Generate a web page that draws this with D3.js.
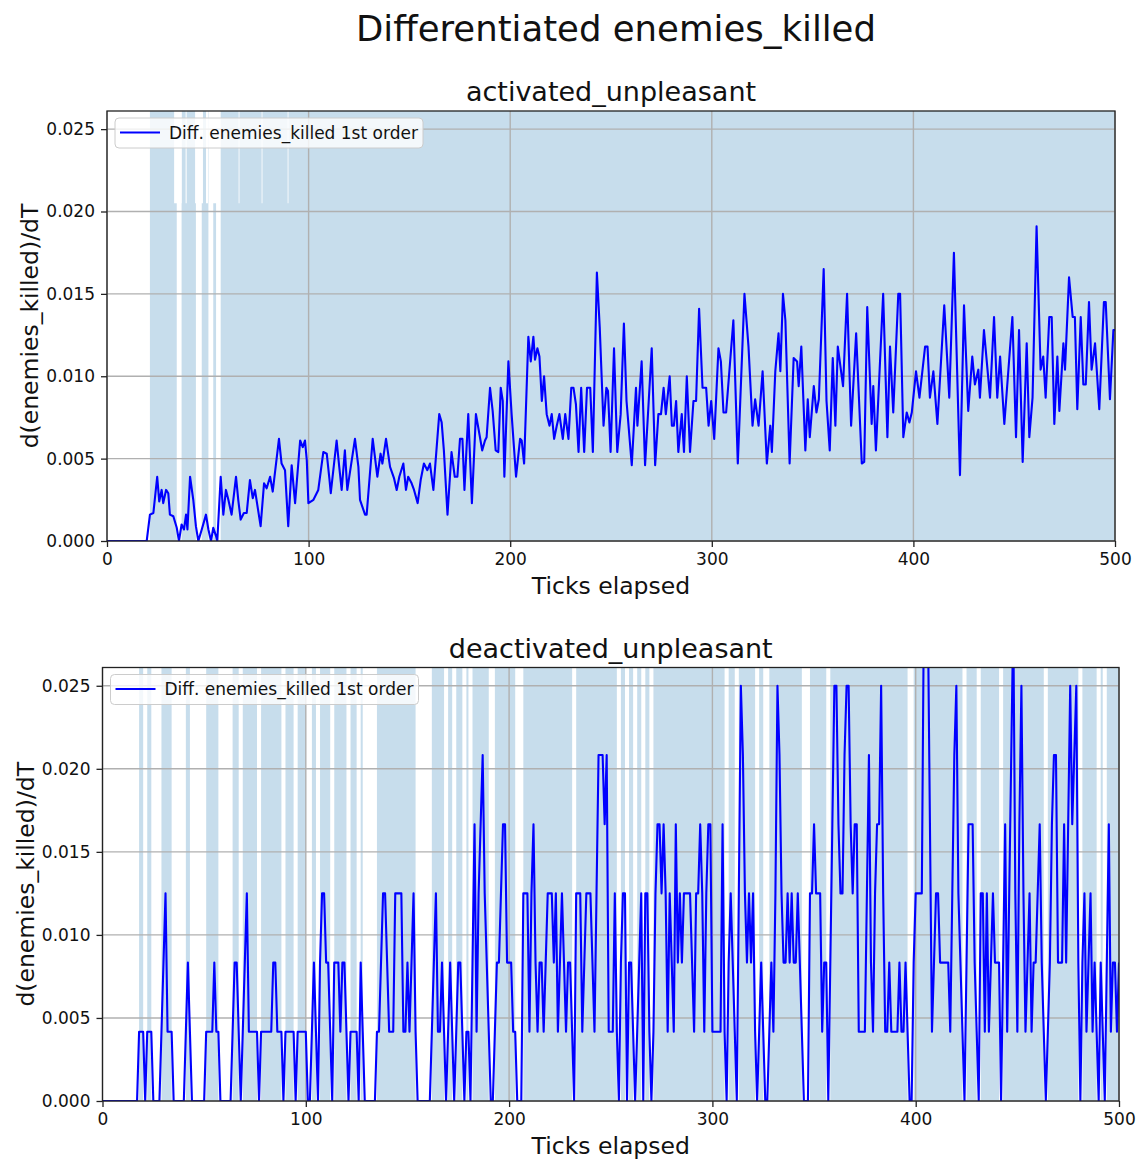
<!DOCTYPE html>
<html>
<head>
<meta charset="utf-8">
<script src="https://cdnjs.cloudflare.com/ajax/libs/d3/7.8.5/d3.min.js"></script>
<style>
body { margin: 0; background: #fff; }
text { font-family: "DejaVu Sans", sans-serif; fill: #111; }
</style>
</head>
<body>
<script>
var figure_title = "Differentiated enemies_killed";
var panel_titles = ["activated_unpleasant", "deactivated_unpleasant"];
var legend_label = "Diff. enemies_killed 1st order";
var x_label = "Ticks elapsed";
var y_label = "d(enemies_killed)/dT";
var x_ticks = [0, 100, 200, 300, 400, 500];
var y_ticks = [0, 0.005, 0.010, 0.015, 0.020, 0.025];
var x_max = 500;
var y_max = 0.0261;

// activated_unpleasant: curve vertices (tick, value x 1000)
var act_ticks = [0, 19.7, 21.3, 23, 24.9, 25.9, 27.1, 27.9, 29.3, 30.4, 31.2, 32.9, 34.6, 35.7, 37.0, 38.2, 39.2, 39.9,
	41.2, 42.8, 44.1, 45.3, 47.0, 49.1, 50.3, 51.6, 52.7, 54.1, 54.7, 56.4, 57.7, 59.0, 60.2, 61.8, 64.0, 65.1, 66.3,
	67.9, 69.3, 70.9, 72.3, 73.4, 76.2, 77.9, 79.2, 80.9, 82.2, 85.3, 86.6, 88.3, 89.9, 91.6, 93.3, 95.8, 97.1, 98.2,
	99.1, 99.9, 102.4, 104.8, 107.3, 109.0, 110.3, 111.0, 113.9, 115.2, 116.4, 118.0, 119.2, 123, 124.7, 125.5, 128,
	128.8, 131.8, 134.1, 135.7, 136.6, 138.4, 140.4, 142.4, 143.7, 145.0, 147, 148.3, 149.4, 151.1, 152.3, 154.1,
	155.6, 157.2, 158.9, 160.2, 161.9, 164.8, 166, 167.1, 168.9, 170.9, 172.5, 173.8, 175.1, 176.3, 177.3, 179.2,
	181.0, 183.0, 185.0, 186.1, 187.5, 188.3, 190, 191.3, 192.8, 194.1, 195.3, 196.3, 197.1, 199.1, 200.7, 202.9,
	204.9, 205.7, 206.9, 209, 210.2, 211.5, 212.3, 213.5, 214.5, 215.7, 216.8, 218.1, 219.5, 220.6, 221.8, 223.1,
	224.4, 226.1, 227.3, 228.9, 230.3, 231.4, 232.6, 233.9, 235.2, 236.7, 238.1, 239.7, 241.0, 243.0, 244.4, 246.3,
	247.7, 248.5, 249.8, 251.5, 253.1, 254.8, 256.4, 257.7, 260.3, 262.4, 263.1, 265.2, 266.9, 270.2, 271.9, 273.5,
	274.8, 276.1, 277.2, 279.1, 280.2, 281.2, 282.3, 283.4, 285.1, 286.2, 287.6, 289.2, 290.9, 292.2, 293.7, 295.4,
	297.2, 298.4, 299.7, 301.2, 303.3, 304.5, 305.8, 307.1, 309.1, 310.7, 312.9, 316.2, 318.2, 320.2, 321.5, 323.2,
	325.2, 327.3, 329.0, 329.8, 331.5, 333.1, 334.0, 335.3, 336.5, 338.6, 340.6, 342.3, 343.1, 344.4, 346.4, 347.6,
	348.6, 350.6, 351.9, 353.1, 355.5, 356.9, 358.5, 360.0, 361.3, 362.5, 365.1, 367.1, 369.1, 371.6, 374.4, 375.6,
	377.1, 379.3, 380.1, 381.4, 385.0, 387.1, 388.4, 390.0, 392.5, 393.4, 395.0, 396.7, 398.0, 399.2, 401.3, 403.0,
	405.8, 407.0, 408.2, 409.9, 411.9, 415.3, 417.8, 420.1, 423.1, 425.1, 427.2, 429.2, 430.5, 432.2, 433.0, 435.0,
	438.0, 440.0, 441.6, 443.0, 445.1, 449.1, 450.9, 452.4, 454.2, 456.2, 457.5, 459.1, 461.1, 463.1, 464.4, 465.6,
	467.4, 468.6, 469.9, 471.4, 472.4, 474.4, 475.2, 477.2, 479.0, 480.1, 481.3, 483.0, 484.3, 485.5, 487.1, 488.4,
	490.1, 492.2, 494.5, 495.4, 497.5, 499.2, 500];
var act_values = [0, 0, 1.6, 1.7, 3.9, 2.4, 3.1, 2.3, 3.1, 2.9, 1.6, 1.5, 0.8, 0, 1.0, 0.7, 1.6, 0.7,
	3.9, 2.5, 0.9, 0, 0.7, 1.6, 0.7, 0, 0.8, 0.3, 0, 3.9, 1.6, 3.1, 2.5, 1.6, 3.9, 2.5, 1.3,
	1.7, 1.7, 3.7, 2.6, 3.1, 0.9, 3.5, 3.2, 3.9, 3.0, 6.2, 4.7, 4.3, 0.9, 4.6, 2.3, 6.1, 5.7, 6.1,
	4.9, 2.3, 2.5, 3.1, 5.4, 5.3, 3.8, 2.9, 6.1, 4.5, 3.1, 5.5, 3.1, 6.2, 4.5, 2.5, 1.6,
	1.6, 6.2, 3.9, 5.3, 4.7, 6.2, 4.5, 3.8, 3.1, 3.9, 4.7, 3.1, 3.9, 3.5, 3.1, 2.3,
	3.7, 4.7, 4.3, 4.7, 3.1, 7.7, 7.2, 5.5, 1.6, 5.4, 3.9, 3.9, 6.2, 6.2, 3.1, 7.7,
	2.3, 7.7, 6.3, 5.5, 6.1, 6.3, 9.3, 7.9, 5.5, 5.4, 9.3, 8.5, 3.9, 10.9, 7.7, 3.9,
	6.2, 6.1, 4.7, 12.4, 10.9, 12.4, 11.0, 11.7, 11.2, 8.5, 10.0, 7.7, 7.0, 7.7, 6.2, 7.0,
	7.7, 6.2, 7.7, 6.2, 9.3, 9.3, 8.3, 5.4, 9.3, 5.4, 9.3, 9.3, 5.4, 16.3, 13.0, 7.0,
	9.3, 9.1, 5.4, 11.7, 5.4, 7.7, 13.2, 8.5, 4.6, 9.3, 7.0, 10.9, 4.6, 11.7, 4.6, 7.7,
	7.7, 9.3, 7.7, 10.0, 7.0, 7.0, 8.5, 5.4, 7.7, 5.4, 10.0, 5.4, 8.5, 8.5, 14.1, 9.3,
	9.3, 7.0, 8.5, 6.2, 11.7, 10.9, 7.8, 7.8, 10.9, 13.4, 4.7, 15.0, 11.8, 7.0, 8.6, 7.0,
	10.3, 4.7, 7.0, 5.4, 10.3, 12.6, 10.3, 15.0, 13.4, 4.7, 11.1, 10.9, 9.4, 11.8, 5.5, 8.6,
	6.3, 9.4, 7.8, 8.6, 16.5, 8.5, 5.5, 11.1, 7.0, 11.8, 9.4, 15.0, 7.0, 12.6, 4.7, 4.8,
	14.2, 7.1, 9.4, 5.5, 15.0, 6.3, 11.8, 7.8, 15.0, 15.0, 6.3, 7.8, 7.2, 7.8, 10.3, 8.7,
	11.8, 11.8, 8.7, 10.3, 7.1, 14.3, 8.7, 17.5, 4.0, 14.3, 7.9, 11.2, 9.5, 10.4, 8.7, 12.8,
	8.7, 13.6, 8.7, 11.2, 7.1, 13.6, 6.3, 12.8, 4.8, 12.0, 6.3, 8.7, 19.1, 10.4, 11.2, 8.7,
	13.6, 13.6, 7.1, 11.2, 7.9, 12.0, 10.4, 16.0, 13.6, 13.6, 8.0, 13.6, 9.5, 9.5, 14.5, 10.4,
	12.0, 8.0, 14.5, 14.5, 8.6, 12.8, 12.8];
// white notches at the top of the activated shading (tick spans)
var act_notches = [[33.3, 37.0], [39.0, 39.5], [43.7, 47.6], [49.1, 50.1], [51.9, 55.2], [65.3, 65.7], [76.7, 77.1], [89.6, 90.0]];
var act_notch_floor = 0.0205;

// deactivated_unpleasant: one value per tick, in steps of 1/240
var deact_step = 1 / 240;
var deact_levels = [
	0,0,0,0,0,0,0,0,0,0, 0,0,0,0,0,0,0,0,1,1, 1,0,1,1,1,0,0,0,0,1, 2,3,1,1,1,0,0,0,0,0,
	0,1,2,1,0,0,0,0,0,0, 0,1,1,1,1,2,1,1,0,0, 0,0,0,0,1,2,2,1,0,1, 2,3,1,1,1,1,1,0,1,1,
	1,1,1,1,2,2,1,1,1,0, 1,1,1,1,1,0,1,1,1,1, 1,0,0,1,2,1,0,2,3,3, 2,2,1,0,2,2,2,1,2,2,
	1,0,1,1,1,1,0,2,1,0, 0,0,0,0,0,1,1,2,3,3, 2,1,1,1,3,3,3,3,1,1, 2,1,2,3,1,0,0,0,0,0,
	0,0,1,2,3,1,1,2,1,0, 1,2,1,0,1,2,2,1,0,1, 1,0,2,4,1,3,4,5,3,2, 1,0,0,1,2,2,3,4,4,2,
	2,2,1,1,0,0,0,3,3,3, 1,3,4,2,1,2,2,1,2,3, 3,3,2,3,1,2,3,2,1,2, 2,1,0,3,3,3,1,2,3,3,
	3,2,1,3,5,5,5,4,5,1, 1,1,3,1,0,2,3,3,0,2, 2,1,0,1,2,3,0,3,3,1, 0,1,3,4,4,3,4,3,1,3,
	2,1,4,2,3,2,3,3,3,3, 2,1,3,3,4,3,1,3,4,4, 1,1,1,1,1,4,1,0,2,3, 2,1,0,3,6,5,3,2,3,2,
	3,1,0,1,2,1,0,0,1,2, 1,3,6,5,3,2,2,3,2,3, 2,2,3,2,1,0,0,0,3,3, 4,3,3,3,1,2,2,0,2,4,
	6,6,4,3,3,5,6,6,4,3, 4,4,1,1,1,1,3,5,2,1, 3,4,4,6,3,1,1,2,1,1, 1,1,2,1,1,2,1,0,0,2,
	3,3,3,3,7,7,7,4,1,2, 3,3,2,2,2,2,2,1,3,5, 6,3,2,1,0,2,4,4,4,2, 1,0,3,3,1,3,1,2,3,2,
	2,2,0,2,4,1,3,5,7,3, 1,4,6,3,1,2,3,1,2,2, 3,4,2,1,0,1,2,4,5,5, 2,2,2,4,2,4,6,4,5,6,
	2,0,2,3,1,2,3,1,2,1, 0,2,1,0,2,4,1,2,2,1, 2];

var width = 1138;
var height = 1160;

var svg = d3.select("body").append("svg")
.attr("width", width)
.attr("height", height);

svg.append("rect")
.attr("width", width)
.attr("height", height)
.attr("fill", "white");

svg.append("text")
.attr("x", 616)
.attr("y", 41)
.attr("text-anchor", "middle")
.style("font-size", "35.5px")
.text(figure_title);

var act_points = act_ticks.map(function(t, i){ return {t: t, v: act_values[i] / 1000}; });
var deact_points = deact_levels.map(function(l, i){ return {t: i, v: l * deact_step}; });

var panels = [
	{title: panel_titles[0], points: act_points, notches: act_notches, notch_floor: act_notch_floor,
		left: 107, right: 1115, top: 111, bottom: 541},
	{title: panel_titles[1], points: deact_points, notches: [], notch_floor: y_max,
		left: 102.5, right: 1119, top: 667.5, bottom: 1101}
];

// spans of consecutive positive samples (like fill_between where=y>0)
function positive_runs(points){
	var runs = [];
	var start = null, last = null;
	points.forEach(function(d){
		if(d.v > 0){
			if(start === null) start = d.t;
			last = d.t;
		}else if(start !== null){
			runs.push([start, last]);
			start = null;
		}
	});
	if(start !== null) runs.push([start, last]);
	return runs;
}

panels.forEach(function(p, ind){
	var x = d3.scaleLinear().domain([0, x_max]).range([p.left, p.right]);
	var y = d3.scaleLinear().domain([0, y_max]).range([p.bottom, p.top]);
	var g = svg.append("g");

	var clip_id = "clip" + ind;
	svg.append("clipPath")
	.attr("id", clip_id)
	.append("rect")
	.attr("x", p.left)
	.attr("y", p.top)
	.attr("width", p.right - p.left)
	.attr("height", p.bottom - p.top);

	g.selectAll("rect.shade")
	.data(positive_runs(p.points))
	.enter()
	.append("rect")
	.attr("class", "shade")
	.attr("x", function(d){ return x(d[0]); })
	.attr("width", function(d){ return x(d[1]) - x(d[0]); })
	.attr("y", p.top)
	.attr("height", p.bottom - p.top)
	.attr("fill", "#1f77b4")
	.attr("fill-opacity", 0.25);

	g.selectAll("rect.notch")
	.data(p.notches)
	.enter()
	.append("rect")
	.attr("class", "notch")
	.attr("x", function(d){ return x(d[0]); })
	.attr("width", function(d){ return x(d[1]) - x(d[0]); })
	.attr("y", p.top)
	.attr("height", y(p.notch_floor) - p.top)
	.attr("fill", "white");

	// grid
	g.selectAll("line.gx")
	.data(x_ticks)
	.enter()
	.append("line")
	.attr("x1", function(d){ return x(d); })
	.attr("x2", function(d){ return x(d); })
	.attr("y1", p.top)
	.attr("y2", p.bottom)
	.attr("stroke", "#b0b0b0")
	.attr("stroke-width", 1.4);
	g.selectAll("line.gy")
	.data(y_ticks)
	.enter()
	.append("line")
	.attr("x1", p.left)
	.attr("x2", p.right)
	.attr("y1", function(d){ return y(d); })
	.attr("y2", function(d){ return y(d); })
	.attr("stroke", "#b0b0b0")
	.attr("stroke-width", 1.4);

	var line = d3.line()
	.x(function(d){ return x(d.t); })
	.y(function(d){ return y(d.v); });

	g.append("path")
	.datum(p.points)
	.attr("d", line)
	.attr("clip-path", "url(#" + clip_id + ")")
	.attr("fill", "none")
	.attr("stroke", "#0000ff")
	.attr("stroke-width", 2.1)
	.attr("stroke-linejoin", "round");

	g.append("rect")
	.attr("x", p.left)
	.attr("y", p.top)
	.attr("width", p.right - p.left)
	.attr("height", p.bottom - p.top)
	.attr("fill", "none")
	.attr("stroke", "#222")
	.attr("stroke-width", 1.3);

	var xa = g.append("g")
	.attr("transform", "translate(0," + p.bottom + ")")
	.call(d3.axisBottom(x).tickValues(x_ticks).tickSize(6).tickPadding(6));
	var ya = g.append("g")
	.attr("transform", "translate(" + p.left + ",0)")
	.call(d3.axisLeft(y).tickValues(y_ticks).tickSize(6).tickPadding(6).tickFormat(d3.format(".3f")));
	[xa, ya].forEach(function(a){
		a.select(".domain").remove();
		a.attr("font-family", null).attr("font-size", null);
		a.selectAll("line").attr("stroke", "#222").attr("stroke-width", 1.3);
		a.selectAll("text").style("font-size", "17px").attr("fill", "#111");
	});

	g.append("text")
	.attr("x", (p.left + p.right) / 2)
	.attr("y", p.top - 10)
	.attr("text-anchor", "middle")
	.style("font-size", "27px")
	.text(p.title);

	g.append("text")
	.attr("x", (p.left + p.right) / 2)
	.attr("y", p.bottom + 53)
	.attr("text-anchor", "middle")
	.style("font-size", "23.5px")
	.text(x_label);

	g.append("text")
	.attr("transform", "translate(" + (p.left - 69) + "," + ((p.top + p.bottom) / 2) + ")rotate(-90)")
	.attr("text-anchor", "middle")
	.style("font-size", "23.5px")
	.text(y_label);

	var lg = g.append("g")
	.attr("transform", "translate(" + (p.left + 8) + "," + (p.top + 7) + ")");
	lg.append("rect")
	.attr("width", 308)
	.attr("height", 30)
	.attr("rx", 4)
	.attr("fill", "white")
	.attr("fill-opacity", 0.8)
	.attr("stroke", "#cccccc");
	lg.append("line")
	.attr("x1", 5)
	.attr("x2", 45)
	.attr("y1", 14.5)
	.attr("y2", 14.5)
	.attr("stroke", "#0000ff")
	.attr("stroke-width", 2.1);
	lg.append("text")
	.attr("x", 54)
	.attr("y", 20.5)
	.style("font-size", "17px")
	.text(legend_label);
});
</script>
</body>
</html>
